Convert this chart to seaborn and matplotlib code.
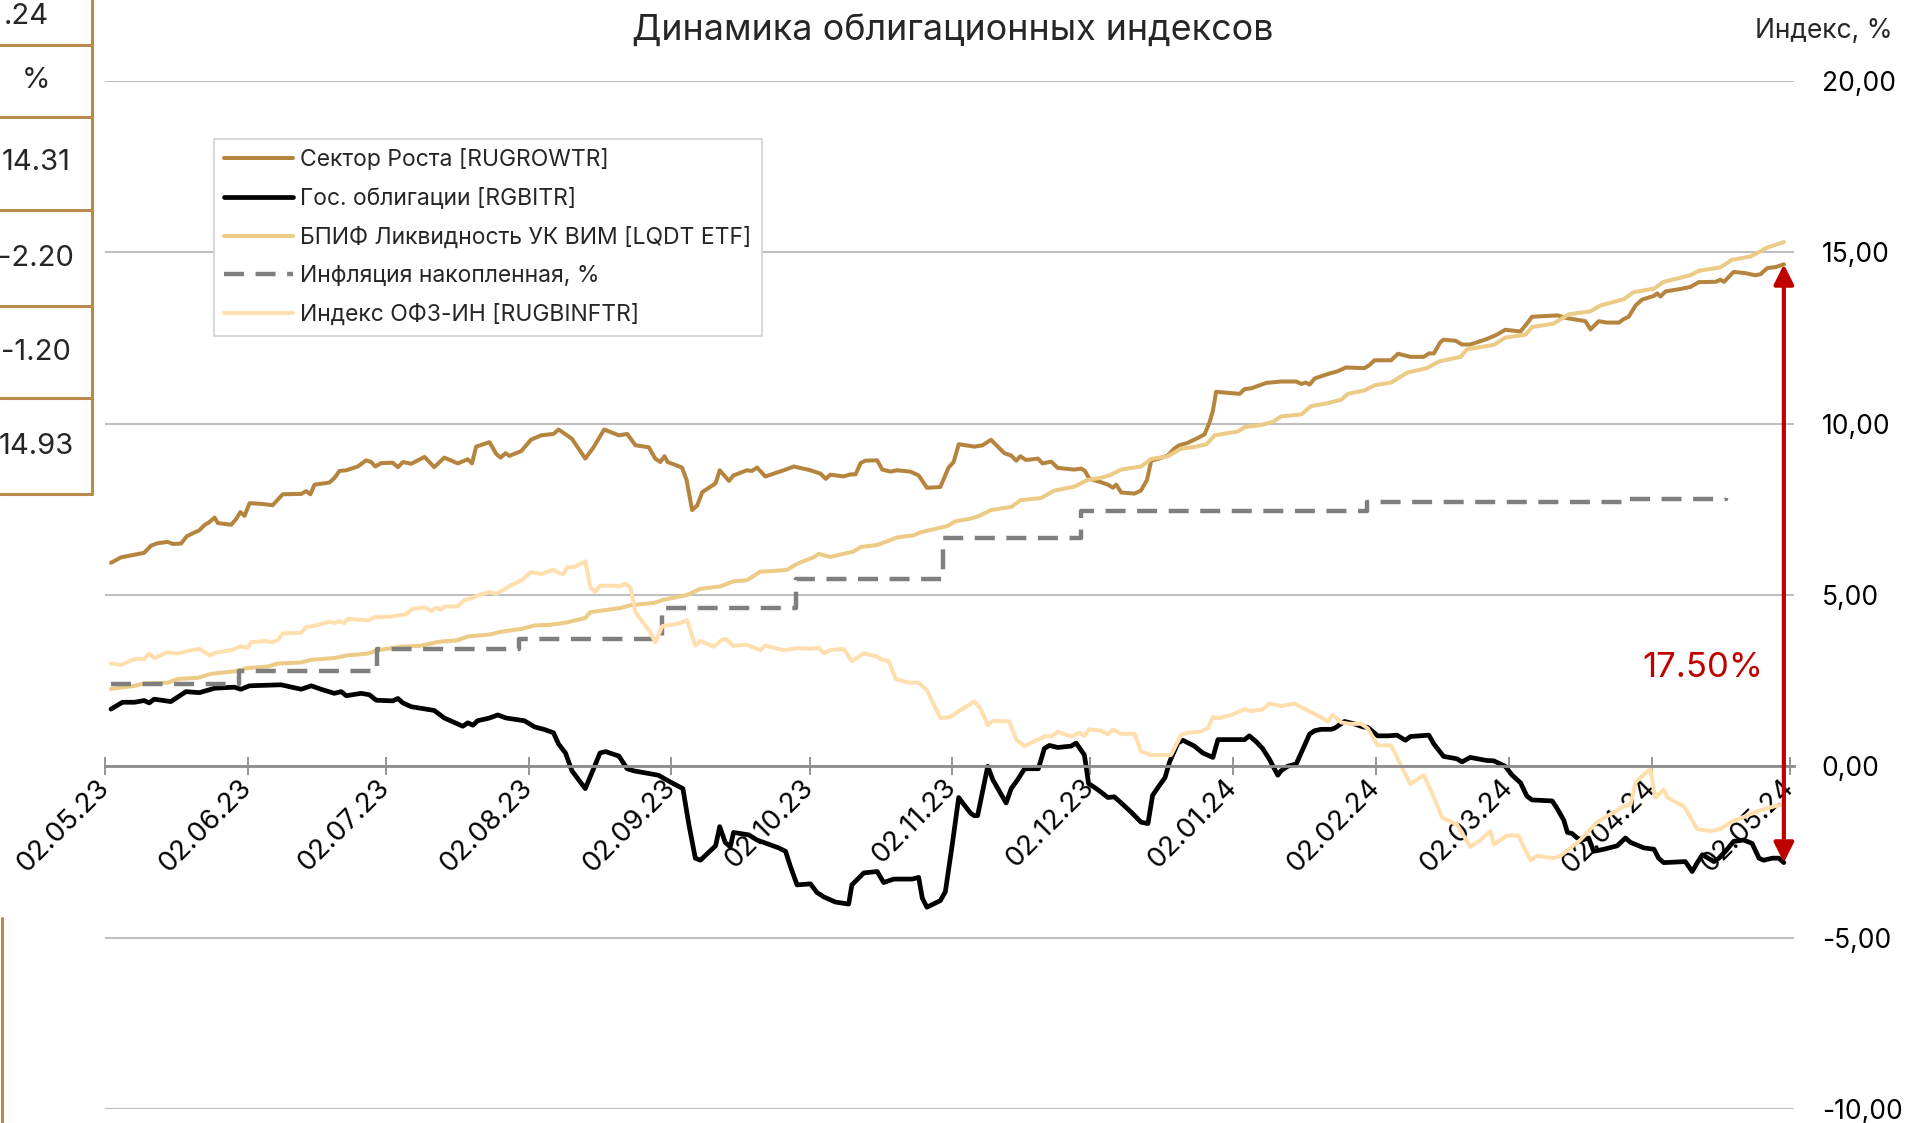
import pandas as pd
import seaborn as sns
import matplotlib.pyplot as plt
from matplotlib.lines import Line2D

# days counted from 02.05.23
start = pd.Timestamp("2023-05-02")

growth_day = [1.3, 3.5, 8.5, 10.0, 11.4, 13.6, 14.7, 16.5, 17.8, 20.5, 21.6, 22.7, 23.8, 24.5, 27.4, 28.5, 29.4, 30.3, 31.4, 33.9,
              36.4, 38.6, 42.6, 43.7, 44.6, 45.5, 48.7, 49.8, 50.9, 52.4, 54.9, 56.7, 57.8, 58.7, 60.0, 62.5, 63.6, 64.7, 66.5, 69.4,
              71.5, 73.7, 76.6, 78.8, 79.7, 80.6, 83.5, 85.0, 85.9, 87.0, 87.8, 90.4, 92.5, 94.7,
              97.4, 98.5, 101.4, 104.3, 106.1, 108.4, 111.6, 113.4, 115.2, 118.1, 119.5, 120.6, 121.5, 122.2, 125.3, 126.3, 127.5, 128.6, 129.7, 132.6,
              133.5, 135.5, 136.5, 139.4, 140.5, 141.6, 143.4, 147.4, 149.6, 153.2, 155.4, 156.5, 157.5, 160.4, 161.9, 163.0, 164.1, 165.1, 167.7, 168.8,
              170.6, 172.0, 174.9, 176.7, 178.5, 181.4, 183.2, 184.3, 185.4,
              188.8, 190.6, 192.4, 193.9, 195.3, 196.8, 197.9, 198.8, 200.0, 202.6, 203.6, 205.5, 206.9, 210.5, 212.0, 212.8, 213.8, 216.3, 217.8, 218.9,
              219.6, 220.7, 223.6, 225.0, 226.3, 227.2, 228.6, 230.8, 232.2, 233.3, 235.1, 237.0, 238.8, 239.9, 240.6, 241.3, 243.8, 246.4, 247.5, 248.9,
              252.2, 255.4, 258.7, 259.8, 260.8, 261.6, 262.7, 265.6, 267.7, 269.5, 273.5, 274.6, 275.7, 279.3, 280.8,
              283.5, 286.4, 287.5, 288.6, 290.0, 290.7, 293.3, 294.7, 296.5, 300.1, 302.3, 304.1, 307.4, 308.8, 309.9, 315.4, 317.5, 319.7, 321.5, 322.6,
              324.4, 326.2, 328.8, 329.8, 330.9, 332.4, 333.8, 336.4, 337.1, 337.8, 338.9, 342.1, 344.3, 346.1, 349.8, 350.8, 351.6, 353.7, 356.3, 358.4,
              359.5, 361.0, 362.8, 364.6]
growth_val = [5.94, 6.10, 6.23, 6.44, 6.51, 6.55, 6.49, 6.50, 6.72, 6.89, 7.04, 7.13, 7.26, 7.10, 7.05, 7.22, 7.42, 7.31, 7.68, 7.66,
              7.62, 7.94, 7.95, 8.03, 7.94, 8.22, 8.28, 8.41, 8.62, 8.64, 8.75, 8.93, 8.88, 8.75, 8.85, 8.86, 8.73, 8.88, 8.83, 9.03,
              8.73, 9.01, 8.84, 8.96, 8.84, 9.33, 9.46, 9.11, 9.01, 9.14, 9.06, 9.20, 9.53, 9.66,
              9.70, 9.83, 9.56, 8.98, 9.31, 9.83, 9.66, 9.70, 9.37, 9.31, 8.98, 8.88, 9.05, 8.88, 8.72, 8.36, 7.48, 7.61, 8.00, 8.26,
              8.64, 8.33, 8.49, 8.64, 8.62, 8.72, 8.46, 8.64, 8.75, 8.64, 8.54, 8.39, 8.51, 8.46, 8.52, 8.52, 8.85, 8.92, 8.93, 8.66,
              8.60, 8.64, 8.60, 8.49, 8.13, 8.15, 8.72, 8.88, 9.40,
              9.33, 9.37, 9.53, 9.33, 9.14, 9.07, 8.92, 9.05, 8.94, 8.98, 8.84, 8.89, 8.71, 8.66, 8.69, 8.62, 8.39, 8.29, 8.22, 8.13,
              8.22, 7.99, 7.96, 8.05, 8.36, 8.92, 8.97, 9.07, 9.27, 9.37, 9.44, 9.56, 9.69, 10.05, 10.38, 10.93, 10.90, 10.87, 11.01, 11.03,
              11.19, 11.23, 11.23, 11.16, 11.20, 11.14, 11.32, 11.45, 11.53, 11.64, 11.62, 11.71, 11.85, 11.85, 12.04,
              11.95, 11.95, 12.05, 12.05, 12.38, 12.45, 12.42, 12.31, 12.31, 12.47, 12.60, 12.74, 12.69, 12.92, 13.12, 13.16, 13.08, 13.03, 12.99, 12.75,
              12.99, 12.95, 12.95, 13.05, 13.12, 13.45, 13.62, 13.73, 13.80, 13.71, 13.86, 13.93, 13.99, 14.13, 14.14, 14.20, 14.14, 14.43, 14.39, 14.33,
              14.36, 14.54, 14.57, 14.65]

gov_day = [1.3, 3.8, 6.4, 8.5, 9.6, 10.7, 14.3, 17.6, 20.5, 23.8, 28.1, 29.5, 31.4, 38.2, 42.6, 44.8, 46.9, 49.8, 51.3, 52.4,
           55.6, 57.4, 58.9, 62.5, 63.6, 64.7, 66.5, 71.5, 73.7, 77.7, 78.8, 79.9, 80.9, 83.5, 85.3, 87.1, 91.1, 93.3,
           95.3, 97.4, 98.5, 100.0, 101.4, 104.3, 106.1, 107.5, 108.7, 111.6, 113.4, 114.8, 120.2, 122.8, 125.5, 126.8, 128.2, 129.3, 132.6, 133.5,
           134.7, 135.8, 136.5, 139.8, 141.6, 146.3, 147.8, 148.9, 150.3, 153.2, 154.6, 156.1, 158.6, 161.5, 162.2, 164.8, 167.7, 169.1, 171.3, 175.3,
           176.7, 177.5, 178.5, 181.4, 182.5, 184.0, 185.4, 186.5, 188.0,
           188.8, 189.5, 191.7, 192.8, 195.7, 196.8, 198.2, 199.7, 202.7, 204.0, 205.1, 206.9, 209.8, 210.9, 212.7, 213.6, 215.6, 217.8, 219.2, 220.7,
           222.8, 225.0, 226.5, 227.5, 228.6, 230.2, 231.2, 233.0, 234.1, 236.6, 238.4, 240.6, 241.7, 244.9, 247.5, 248.5, 250.0, 251.4, 252.9, 254.7,
           255.4, 256.8, 258.7, 261.6, 262.7, 264.1, 266.3, 267.0, 269.2, 271.3, 273.2, 274.2, 276.4, 278.6,
           280.6, 282.4, 283.5, 287.5, 288.6, 290.7, 293.6, 294.7, 296.5, 300.1, 301.6, 303.0, 304.1, 305.6, 307.4, 308.8, 309.9, 314.3, 315.4, 316.8,
           317.6, 318.6, 319.7, 320.8, 322.2, 323.3, 325.5, 328.4, 330.2, 331.3, 334.2, 336.4, 337.4, 338.5, 343.2, 344.7, 345.8, 346.9, 349.4, 350.5,
           351.9, 353.7, 355.9, 357.7, 359.2, 360.2, 362.1, 363.5, 364.6]
gov_val = [1.67, 1.87, 1.87, 1.92, 1.85, 1.96, 1.89, 2.18, 2.15, 2.28, 2.31, 2.25, 2.35, 2.38, 2.25, 2.35, 2.25, 2.13, 2.18, 2.06,
           2.13, 2.09, 1.93, 1.91, 1.98, 1.85, 1.74, 1.63, 1.41, 1.17, 1.27, 1.20, 1.33, 1.41, 1.50, 1.41, 1.33, 1.15,
           1.08, 0.98, 0.65, 0.39, -0.13, -0.65, -0.07, 0.39, 0.43, 0.30, -0.07, -0.13, -0.26, -0.46, -0.65, -1.70, -2.68, -2.74, -2.32, -1.76,
           -2.22, -2.35, -1.93, -2.00, -2.15, -2.38, -2.48, -2.94, -3.46, -3.43, -3.68, -3.81, -3.96, -4.02, -3.46, -3.11, -3.07, -3.39, -3.29, -3.29,
           -3.24, -3.85, -4.11, -3.92, -3.66, -2.28, -0.91, -1.11, -1.37,
           -1.44, -1.44, 0.00, -0.39, -1.07, -0.65, -0.39, -0.07, -0.07, 0.52, 0.61, 0.55, 0.59, 0.68, 0.33, -0.50, -0.68, -0.91, -0.89, -1.07,
           -1.33, -1.63, -1.67, -0.85, -0.63, -0.33, 0.13, 0.68, 0.76, 0.59, 0.39, 0.26, 0.78, 0.78, 0.78, 0.89, 0.72, 0.52, 0.20, -0.26,
           -0.13, 0.00, 0.07, 0.94, 1.04, 1.08, 1.08, 1.11, 1.31, 1.24, 1.15, 1.14, 0.89, 0.89,
           0.91, 0.76, 0.87, 0.91, 0.65, 0.29, 0.22, 0.13, 0.26, 0.17, 0.16, 0.07, 0.00, -0.26, -0.48, -0.87, -0.98, -1.01, -1.24, -1.57,
           -1.93, -1.96, -2.09, -2.15, -2.09, -2.48, -2.42, -2.32, -2.09, -2.22, -2.38, -2.42, -2.68, -2.81, -2.78, -3.07, -2.81, -2.58, -2.78, -2.68,
           -2.48, -2.19, -2.15, -2.25, -2.68, -2.74, -2.68, -2.68, -2.81]

lqdt_day = [1.3, 6.4, 8.5, 13.6, 15.8, 20.1, 23.0, 28.1, 31.0, 35.3, 37.5, 42.6, 44.8, 49.8, 52.7, 57.1, 59.2, 64.3, 68.6, 72.3,
            76.6, 78.8, 83.8, 85.7, 90.4, 93.3,
            96.7, 100.3, 104.3, 105.4, 111.9, 114.1, 119.2, 121.3, 126.4, 129.3, 133.6, 136.5, 139.4, 142.3, 146.0, 148.2, 150.3, 153.9, 155.0, 157.5,
            162.6, 164.1, 167.7, 169.9, 172.0, 175.6, 177.1, 180.0, 182.9, 184.7, 188.0,
            189.9, 192.4, 196.8, 198.9, 203.3, 206.2, 210.5, 213.4, 216.3, 218.1, 220.7, 225.0, 227.2, 230.8, 233.7, 236.6, 239.2, 241.0, 246.0, 247.5,
            251.1, 253.6, 255.4, 259.8, 261.9, 265.6, 268.5, 269.9, 273.5, 275.7, 279.3,
            282.8, 287.1, 289.6, 294.4, 295.8, 301.6, 304.1, 308.5, 309.9, 314.6, 317.9, 322.6, 324.8, 329.8, 332.0, 336.4, 338.5, 344.3, 346.1, 350.8,
            353.3, 357.4, 361.0, 364.6]
lqdt_val = [2.26, 2.35, 2.42, 2.44, 2.55, 2.58, 2.70, 2.77, 2.87, 2.91, 3.00, 3.03, 3.11, 3.16, 3.24, 3.29, 3.39, 3.49, 3.52, 3.63,
            3.68, 3.79, 3.85, 3.92, 4.01, 4.11,
            4.13, 4.20, 4.33, 4.50, 4.62, 4.70, 4.77, 4.86, 5.00, 5.18, 5.25, 5.40, 5.43, 5.68, 5.71, 5.74, 5.91, 6.10, 6.20, 6.11,
            6.27, 6.40, 6.46, 6.57, 6.68, 6.74, 6.83, 6.92, 7.01, 7.15, 7.23,
            7.31, 7.48, 7.57, 7.77, 7.83, 8.05, 8.16, 8.36, 8.42, 8.49, 8.66, 8.75, 8.97, 9.05, 9.27, 9.32, 9.40, 9.66, 9.77, 9.90,
            9.96, 10.05, 10.21, 10.27, 10.51, 10.60, 10.70, 10.87, 10.97, 11.12, 11.20,
            11.49, 11.62, 11.81, 11.95, 12.17, 12.30, 12.51, 12.60, 12.82, 12.92, 13.19, 13.28, 13.45, 13.63, 13.84, 13.94, 14.14, 14.33, 14.46, 14.56,
            14.78, 14.88, 15.14, 15.30]

# accumulated inflation, monthly steps
infl_day = [1.3, 29, 59, 90, 121, 150, 182, 212, 274, 331, 352]
infl_val = [2.39, 2.78, 3.43, 3.72, 4.63, 5.48, 6.67, 7.44, 7.70, 7.79, 7.82]

ofz_day = [1.3, 3.5, 6.4, 8.5, 9.6, 10.7, 13.6, 15.8, 18.0, 20.5, 22.7, 24.1, 27.4, 29.5, 31.0, 31.7, 34.6, 36.4, 37.5, 38.6,
           42.6, 43.7, 45.5, 48.7, 49.8, 50.9, 52.0, 52.7, 57.1, 58.5, 62.1, 65.4, 66.8, 69.7, 70.8, 71.9, 73.0, 73.7, 76.6, 78.1,
           79.5, 81.0, 83.5, 84.9, 86.7, 88.2, 90.4, 92.5, 94.7,
           97.4, 98.5, 99.6, 100.3, 101.8, 104.3, 105.4, 106.5, 107.5, 110.5, 111.6, 113.0, 114.1, 115.2, 116.6, 118.4, 119.5, 121.0, 123.5, 125.3,
           126.4, 128.2, 129.3, 132.2, 134.0, 134.7, 136.5, 139.4, 142.3, 143.4, 147.4, 150.3, 153.2, 155.0, 156.1, 157.5, 160.4, 162.2, 164.8, 167.7,
           168.4, 170.2, 171.7, 174.6, 176.7, 178.5, 181.4, 183.6, 185.4,
           188.8, 190.2, 191.7, 192.8, 196.4, 197.9, 199.7, 202.6, 204.4, 205.5, 206.9, 209.8, 211.6, 212.7, 213.8, 216.3, 217.8, 218.9, 220.7, 223.6,
           225.0, 227.2, 231.5, 233.7, 235.1, 237.7, 239.5, 240.6, 241.7, 244.6, 247.5, 248.9, 251.4, 252.9, 255.4, 258.3, 261.2, 263.4, 265.6, 266.6,
           268.5, 270.3, 272.8, 274.2, 276.4, 279.3,
           280.6, 282.0, 283.5, 286.4, 288.6, 290.4, 293.6, 296.5, 298.7, 300.9, 301.6, 304.5, 307.0, 308.1, 309.6, 311.0, 314.6, 316.1, 317.9, 320.4,
           324.0, 329.8, 331.3, 332.4, 335.6, 336.7, 338.5, 339.3, 342.9, 345.8, 348.7, 350.8, 353.0, 356.6, 358.8, 362.4, 364.6]
ofz_val = [3.00, 2.96, 3.13, 3.13, 3.29, 3.16, 3.33, 3.29, 3.37, 3.43, 3.24, 3.32, 3.39, 3.50, 3.46, 3.62, 3.66, 3.62, 3.68, 3.88,
           3.90, 4.07, 4.10, 4.22, 4.18, 4.24, 4.18, 4.30, 4.26, 4.35, 4.37, 4.44, 4.60, 4.63, 4.53, 4.63, 4.57, 4.66, 4.67, 4.86,
           4.90, 4.99, 5.09, 5.03, 5.16, 5.29, 5.42, 5.67, 5.61,
           5.74, 5.64, 5.61, 5.81, 5.81, 5.98, 5.22, 5.09, 5.27, 5.27, 5.25, 5.33, 5.22, 4.50, 4.24, 3.92, 3.62, 4.09, 4.14, 4.20,
           4.27, 3.52, 3.66, 3.49, 3.69, 3.72, 3.52, 3.55, 3.39, 3.52, 3.39, 3.45, 3.43, 3.46, 3.30, 3.39, 3.43, 3.07, 3.30, 3.20,
           3.13, 3.07, 2.55, 2.44, 2.44, 2.22, 1.41, 1.44, 1.61,
           1.89, 1.67, 1.20, 1.33, 1.31, 0.78, 0.59, 0.78, 0.89, 0.87, 1.01, 0.87, 0.98, 0.89, 1.08, 1.04, 0.94, 1.07, 0.95, 0.95,
           0.43, 0.33, 0.33, 0.91, 0.98, 1.01, 1.11, 1.44, 1.40, 1.50, 1.67, 1.61, 1.66, 1.83, 1.76, 1.83, 1.63, 1.48, 1.31, 1.50,
           1.28, 1.24, 1.24, 1.11, 0.61, 0.61,
           0.26, -0.13, -0.52, -0.26, -0.91, -1.50, -1.70, -2.35, -2.15, -1.89, -2.28, -2.02, -2.02, -2.35, -2.74, -2.61, -2.68, -2.61, -2.42, -2.15,
           -1.63, -1.17, -1.11, -0.46, -0.07, -0.91, -0.68, -0.91, -1.17, -1.83, -1.89, -1.83, -1.63, -1.44, -1.31, -1.17, -1.11]

labels = ["Сектор Роста [RUGROWTR]", "Гос. облигации [RGBITR]", "БПИФ Ликвидность УК ВИМ [LQDT ETF]",
          "Инфляция накопленная, %", "Индекс ОФЗ-ИН [RUGBINFTR]"]
colors = ["#B5853F", "#000000", "#EBCB85", "#7F7F7F", "#FFDFAE"]
spread_label = "17.50%"
table_cells = [".24", "%", "14.31", "-2.20", "-1.20", "14.93"]

W, H = 1906, 1123
gold = "#B98B4B"


def to_dates(days):
    return start + pd.to_timedelta(days, unit="D")


sns.set_theme(style="white")
plt.rcParams["font.family"] = ["Inter", "DejaVu Sans"]

fig = plt.figure(figsize=(W / 100, H / 100), dpi=100)
ax = fig.add_axes([105 / W, 1 - 1109 / H, (1794 - 105) / W, (1109 - 81) / H])

sns.lineplot(x=to_dates(growth_day), y=growth_val, ax=ax, color=colors[0], lw=2.9, label=labels[0])
sns.lineplot(x=to_dates(gov_day), y=gov_val, ax=ax, color=colors[1], lw=3.4, label=labels[1])
sns.lineplot(x=to_dates(lqdt_day), y=lqdt_val, ax=ax, color=colors[2], lw=2.9, label=labels[2])
sns.lineplot(x=to_dates(infl_day), y=infl_val, ax=ax, color=colors[3], lw=3.2, label=labels[3],
             drawstyle="steps-post", linestyle=(0, (4.5, 2.6)))
sns.lineplot(x=to_dates(ofz_day), y=ofz_val, ax=ax, color=colors[4], lw=2.9, label=labels[4])

ax.set_xlim(start, start + pd.Timedelta(days=366.8))
ax.set_ylim(-10, 20)

# spines first: moving the spine resets the ticks
for side in ["top", "left", "right"]:
    ax.spines[side].set_visible(False)
ax.spines["bottom"].set_position(("data", 0))
ax.spines["bottom"].set_color("#8C8C8C")
ax.spines["bottom"].set_linewidth(2)

tick_dates = pd.date_range("2023-05-02", periods=13, freq=pd.DateOffset(months=1))
ax.set_xticks(tick_dates)
ax.tick_params(axis="x", direction="inout", length=13, width=1.3, color="#8C8C8C", pad=6,
               labelsize=20, labelcolor="black", bottom=True)
ax.set_xticklabels(tick_dates.strftime("%d.%m.%y"), rotation=45, ha="right", va="center",
                   rotation_mode="anchor")

yt = list(range(-10, 21, 5))
ax.set_yticks(yt)
ax.set_yticklabels([f"{v:.2f}".replace(".", ",") for v in yt])
ax.yaxis.tick_right()
ax.tick_params(axis="y", length=0, pad=20, labelsize=19, labelcolor="black")
ax.set_xlabel("")
ax.set_ylabel("")

ax.grid(axis="y", color="#BFBFBF", lw=1.5)
ax.grid(axis="x", visible=False)
ax.set_axisbelow(True)

# spread arrow between the last points
x_end = to_dates([growth_day[-1]])[0]
ax.annotate("", xy=(x_end, growth_val[-1]), xytext=(x_end, gov_val[-1]),
            arrowprops=dict(arrowstyle="<|-|>", color="#C00000", lw=3, mutation_scale=30,
                            shrinkA=0, shrinkB=0))
ax.text(to_dates([347])[0], 2.87, spread_label, color="#C00000", fontsize=25, ha="center", va="center")

ax.legend(loc="upper left", bbox_to_anchor=(214 / W, 1 - 139 / H), bbox_transform=fig.transFigure,
          fontsize=16.5, frameon=True, fancybox=False, edgecolor="#D9D9D9", framealpha=1,
          borderaxespad=0, borderpad=0.45, handlelength=3.0, handletextpad=0.3, labelspacing=0.72)
ax.get_legend().get_frame().set_linewidth(1.5)

fig.text(0.5, 1 - 30 / H, "Динамика облигационных индексов", ha="center", va="center", fontsize=25.8)
fig.text(1893 / W, 1 - 31 / H, "Индекс, %", ha="right", va="center", fontsize=19)

# piece of the neighbouring table on the left
fig.add_artist(Line2D([92 / W, 92 / W], [1, 1 - 494 / H], transform=fig.transFigure, color=gold, lw=2.2))
for yy in [45, 117, 210, 306, 398, 494]:
    fig.add_artist(Line2D([0, 92 / W], [1 - yy / H, 1 - yy / H], transform=fig.transFigure, color=gold, lw=2.2))
fig.add_artist(Line2D([2 / W, 2 / W], [1 - 918 / H, 0], transform=fig.transFigure, color=gold, lw=2.2))
fig.text(49 / W, 1 - 17 / H, table_cells[0], ha="right", va="center", fontsize=21)
for txt, yy in zip(table_cells[1:], [81, 163, 258, 352, 446]):
    fig.text(36 / W, 1 - yy / H, txt, ha="center", va="center", fontsize=21)

fig.savefig("out.png", dpi=100)
